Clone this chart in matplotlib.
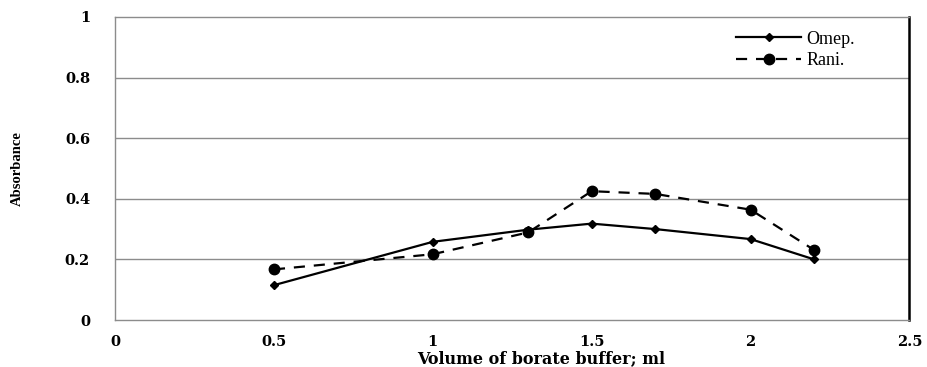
import matplotlib
matplotlib.use("Agg")
import matplotlib.pyplot as plt

# Data
volume = [0.5, 1.0, 1.3, 1.5, 1.7, 2.0, 2.2]
omep = [0.115, 0.258, 0.298, 0.318, 0.300, 0.267, 0.200]
rani = [0.167, 0.217, 0.289, 0.425, 0.416, 0.364, 0.231]

x_ticks = [0, 0.5, 1, 1.5, 2, 2.5]
x_tick_labels = ["0", "0.5", "1", "1.5", "2", "2.5"]
y_ticks = [0, 0.2, 0.4, 0.6, 0.8, 1]
y_tick_labels = ["0", "0.2", "0.4", "0.6", "0.8", "1"]

plt.rcParams["font.family"] = ["DejaVu Serif"]

fig = plt.figure(figsize=(9.28, 3.67), dpi=100)
ax = fig.add_axes([0.124, 0.128, 0.856, 0.826])

# gridlines
for y in y_ticks[1:-1]:
    ax.axhline(y, color="#8c8c8c", lw=1.0, zorder=0)

ax.plot(volume, omep, color="black", lw=1.6, marker="D", ms=4,
        label="Omep.", zorder=3)
ax.plot(volume, rani, color="black", lw=1.6, ls=(0, (5, 4)), marker="o",
        ms=7.5, label="Rani.", zorder=3)

ax.set_xlim(0, 2.5)
ax.set_ylim(0, 1)
ax.set_xticks(x_ticks)
ax.set_xticklabels(x_tick_labels, fontsize=10.5, fontweight="bold")
ax.set_yticks(y_ticks)
ax.set_yticklabels(y_tick_labels, fontsize=10.5, fontweight="bold")
ax.tick_params(axis="x", length=0, pad=11)
ax.tick_params(axis="y", length=0, pad=18)

for side in ["left", "top", "bottom"]:
    ax.spines[side].set_color("#8c8c8c")
    ax.spines[side].set_linewidth(1.0)
ax.spines["right"].set_color("black")
ax.spines["right"].set_linewidth(1.8)

ax.set_xlabel("Volume of borate buffer; ml", fontsize=11.5, fontweight="bold")
ax.xaxis.set_label_coords(0.536, -0.1)
ax.set_ylabel("Absorbance", fontsize=10.5, fontweight="bold",
              family=["Liberation Serif"])
ax.yaxis.set_label_coords(-0.115, 0.5)

ax.legend(loc="upper right", bbox_to_anchor=(0.952, 1.008), frameon=False,
          prop={"family": "Liberation Serif", "size": 13},
          handlelength=3.6, handletextpad=0.3, labelspacing=0.25)

fig.savefig("out.png", dpi=100)
